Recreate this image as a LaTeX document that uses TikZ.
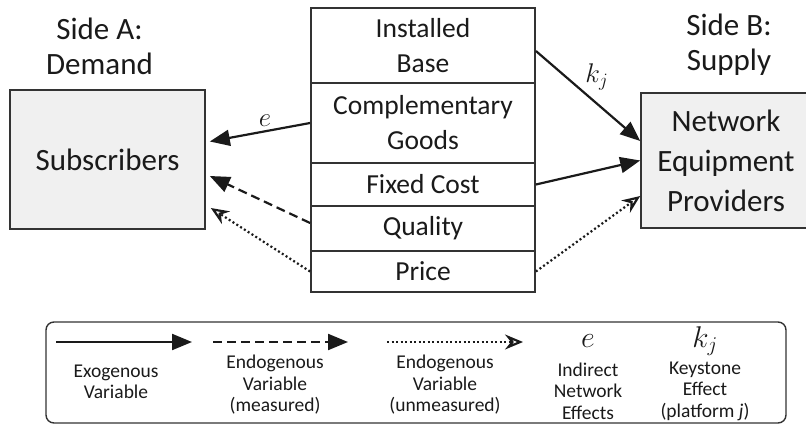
\RequirePackage{fix-cm}
\documentclass[tikz,border=0pt]{standalone}
\usepackage{fontspec}
\setmainfont{Carlito}
\usepackage{xcolor}
\usepackage{tikz}
\usetikzlibrary{positioning, arrows.meta, calc}
\definecolor{dgline}{HTML}{333333}
\definecolor{dgfill}{HTML}{F0F0F0}
\definecolor{dgink}{HTML}{1A1A1A}

\begin{document}
\begin{tikzpicture}[x=1pt, y=-1pt,
  side/.style={draw=dgline, line width=1.6pt, fill=dgfill, align=center, inner sep=0pt, font=\fontsize{31}{40}\selectfont, text=dgink},
  factor/.style={draw=dgline, line width=1.8pt, fill=white, align=center, inner sep=0pt, minimum width=224pt, font=\fontsize{27.5}{35}\selectfont, text=dgink},
  head/.style={align=center, font=\fontsize{31}{35}\selectfont, text=dgink},
  keytxt/.style={align=center, font=\fontsize{19.5}{21.5}\selectfont, text=dgink},
  sym/.style={font=\fontsize{27}{27}\selectfont, text=dgink},
  arr/.style={-{Triangle[length=20pt, width=16pt]}, line width=2.2pt, dgink},
  darr/.style={arr, dash pattern=on 9pt off 5pt},
  oarr/.style={-{Stealth[open, length=18pt, width=15pt, inset=6pt]}, line width=2.2pt, dgink, dash pattern=on 2pt off 2.5pt}
]
  \useasboundingbox (0,0) rectangle (806,425);

  % two sides of the platform
  \node[head] (sidea) at (99.5, 46) {Side A:\\Demand};
  \node[head] (sideb) at (729, 45) {Side B:\\Supply};
  \node[side, minimum width=195pt, minimum height=139pt] (subs) at (107.5, 159.5) {Subscribers};
  \node[side, minimum width=170pt, minimum height=135pt] (nep) at (726, 160.5) {Network\\Equipment\\Providers};

  % platform factors
  \node[factor, minimum height=75pt] (base) at (423, 45.5) {Installed\\Base};
  \node[factor, minimum height=80pt] (comp) at (423, 123) {Complementary\\Goods};
  \node[factor, minimum height=43pt] (fixed) at (423, 184.5) {Fixed Cost};
  \node[factor, minimum height=45pt] (qual) at (423, 228.5) {Quality};
  \node[factor, minimum height=41pt] (price) at (423, 271.5) {Price};

  \draw[arr] (comp.west) -- node[sym, above, pos=0.45] {$e$} ([xshift=4pt, yshift=18pt]subs.east);
  \draw[darr] ([yshift=5.5pt]qual.west) -- ([xshift=4pt, yshift=-16.5pt]subs.east);
  \draw[oarr] (price.west) -- ([xshift=5pt, yshift=-48.5pt]subs.east);
  \draw[arr] ([yshift=-5.5pt]base.east) -- node[sym, anchor=south west, pos=0.5, xshift=-7pt, yshift=1pt] {$k_j$} ([yshift=19.5pt]nep.west);
  \draw[arr] (fixed.east) -- (nep.west);
  \draw[oarr] (price.east) -- ([yshift=-35.5pt]nep.west);

  % legend
  \node[draw=dgline, line width=1.4pt, rounded corners=8pt, minimum width=740pt, minimum height=101pt, inner sep=0pt] (legend) at (416, 372.5) {};
  \coordinate (exoa) at (56, 342);
  \coordinate (exob) at (192, 342);
  \coordinate (msra) at (213, 342);
  \coordinate (msrb) at (348, 342);
  \coordinate (unma) at (387, 342);
  \coordinate (unmb) at (523, 342);
  \draw[arr] (exoa) -- (exob);
  \draw[darr] (msra) -- (msrb);
  \draw[oarr] (unma) -- (unmb);
  \node[keytxt] (exo) at (116, 382) {Exogenous\\Variable};
  \node[keytxt] (msr) at (275, 385) {Endogenous\\Variable\\(measured)};
  \node[keytxt] (unm) at (445, 385) {Endogenous\\Variable\\(unmeasured)};
  \node[sym, font=\fontsize{30}{30}\selectfont] (esym) at (588, 341) {$e$};
  \node[keytxt] (ine) at (588, 391) {Indirect\\Network\\Effects};
  \node[sym, font=\fontsize{30}{30}\selectfont] (ksym) at (705, 341) {$k_j$};
  \node[keytxt] (kse) at (705, 391) {Keystone\\Effect\\(platform \textit{j})};
\end{tikzpicture}
\end{document}
